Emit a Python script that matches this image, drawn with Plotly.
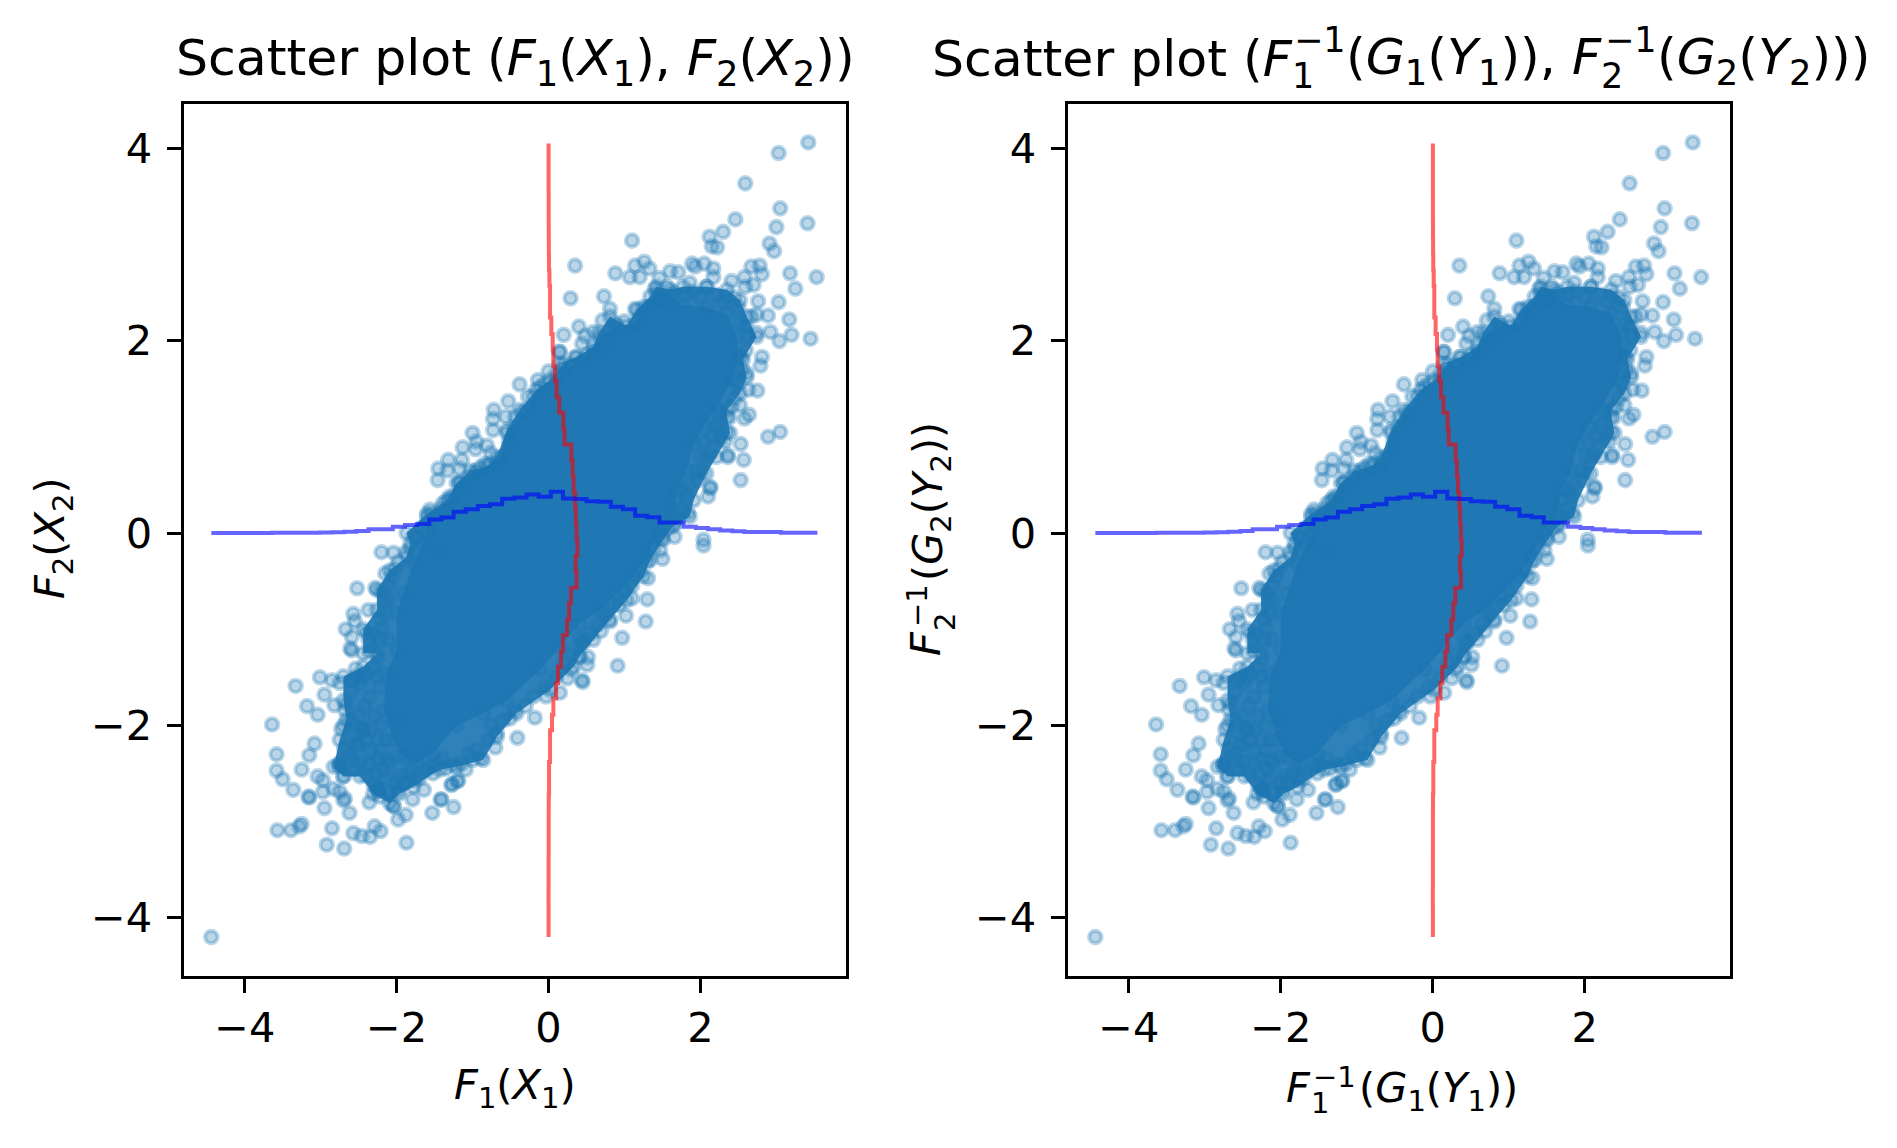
import plotly.graph_objects as go

# Values. The centre of the cloud is too saturated
# for separate points to be readable, so it is drawn from two outlines traced from
# the picture (solid core, denser band); the fringe points are individual marks.
core_outline = [(-2.13,-1.46),(-2.0,-1.22),(-2.0,-.835),(-1.91,-.63),(-1.78,-.32),(-1.6,.0),(-1.6,.17),(-1.3,.34),
    (-1.17,.52),(-.95,.65),(-.64,.76),(-.55,1.04),(-.29,1.28),(-.11,1.52),(.11,1.59),(.2,1.69),(.46,1.8),(.68,2.04),
    (.9,2.15),(1.14,2.18),(1.25,2.35),(1.42,2.49),(1.6,2.47),(1.77,2.37),(2.08,2.35),(2.35,2.28),(2.48,2.04),(2.5,1.83),
    (2.43,1.59),(2.21,1.31),(2.04,1.11),(1.91,.93),(1.82,.655),(1.69,.45),(1.64,.2),(1.47,.03),(1.29,-.245),(1.12,-.45),
    (.9,-.63),(.68,-.8),(.41,-.94),(.15,-1.18),(-.11,-1.42),(-.55,-1.74),(-.86,-1.875),(-1.21,-2.0),(-1.52,-2.29),
    (-1.74,-2.39),(-1.91,-2.33),(-2.04,-2.15),(-2.17,-1.84)]

band_outline = [(.15,1.76),(.37,1.83),(.59,1.94),(.66,2.08),(.81,2.25),(1.03,2.15),(1.16,2.32),(1.34,2.46),(1.42,2.56),
    (1.6,2.53),(1.77,2.56),(2.08,2.56),(2.35,2.53),(2.52,2.42),(2.61,2.25),(2.74,2.04),(2.56,1.8),(2.61,1.62),(2.52,1.45),
    (2.35,1.28),(2.35,1.21),(2.39,1.04),(2.21,.79),(2.08,.62),(1.91,.34),(1.86,.17),(1.64,.07),(1.51,-.07),(1.34,-.28),
    (1.25,-.45),(1.03,-.7),(.81,-.9),(.59,-1.11),(.41,-1.28),(.33,-1.39),(.02,-1.63),(-.42,-1.875),(-.68,-2.12),(-.86,-2.36),
    (-1.21,-2.43),(-1.43,-2.46),(-1.52,-2.5),(-1.78,-2.64),(-1.96,-2.71),(-2.09,-2.81),(-2.31,-2.71),(-2.48,-2.53),(-2.7,-2.53),
    (-2.83,-2.43),(-2.75,-2.15),(-2.66,-1.94),(-2.7,-1.74),(-2.7,-1.49),(-2.44,-1.39),(-2.26,-1.25),(-2.44,-1.25),(-2.44,-1.0),
    (-2.26,-.8),(-2.26,-.59),(-2.09,-.39),(-1.87,-.25),(-1.82,-.11),(-1.87,.0),(-1.6,.2),(-1.34,.34),(-1.21,.52),(-1.03,.65),
    (-.81,.69),(-.68,.79),(-.55,1.07),(-.38,1.28),(-.16,1.49),(.02,1.59),(.2,1.76)]

fringe_top_right = [(3.42,4.06),(3.03,3.95),(2.59,3.635),(3.05,3.375),(3.41,3.22),(3.0,3.18),(2.46,3.26),(2.30,3.13),
    (2.12,3.08),(2.15,2.98),(2.22,2.97),(1.10,3.04),(2.91,3.01),(2.97,2.93),(.35,2.78),(.88,2.70),(1.14,2.78),(1.07,2.66),
    (1.2,2.66),(1.26,2.82),(1.33,2.75),(1.46,2.65),(1.6,2.72),(1.71,2.71),(1.89,2.80),(1.93,2.77),(2.05,2.80),(2.17,2.75),
    (2.17,2.66),(1.86,2.60),(2.41,2.62),(2.58,2.66),(2.67,2.77),(2.78,2.78),(2.81,2.69),(2.7,2.58),(2.59,2.56),(3.18,2.70),
    (3.53,2.66),(3.25,2.54),(.29,2.44),(.73,2.46),(.81,2.33),(1.14,2.33),(2.76,2.41),(3.03,2.40),(2.89,2.26),(3.17,2.22),
    (2.92,2.09),(3.2,2.06),(3.04,1.995),(3.45,2.02),(.20,2.06),(.40,2.145),(.44,1.97),(.59,2.09),(.48,2.05),(.71,2.21),
    (.88,2.18),(.15,1.88),(.35,1.83),(2.81,1.83),(2.79,1.74),(2.75,1.48),(2.74,2.08),(2.63,1.49),(2.61,1.66),(2.54,1.83),
    (2.52,2.18),(2.5,2.35),(2.67,2.25),(2.74,2.27),(2.35,2.46),(2.08,2.56),(1.89,2.51),(1.56,2.56),(1.4,2.54),(1.47,2.46),(1.51,2.42)]

fringe_right = [(3.05,1.05),(2.89,1.0),(2.53,.925),(2.57,.76),(2.53,.55),(2.58,1.19),(2.64,1.23),(2.41,1.31),(2.52,1.33),
    (2.35,1.05),(2.32,.95),(2.36,.81),(2.36,.79),(2.13,.83),(2.02,.64),(1.97,.55),(2.13,.48),(2.13,.465),(2.1,.38),(1.84,.205),
    (1.82,.38),(1.67,.1),(1.66,-.04),(2.04,-.07),(2.04,-.13),(1.47,-.02),(1.47,-.18),(1.5,-.27),(1.31,-.47),(1.3,-.69),
    (1.1,-.68),(1.02,-.86),(1.28,-.92),(.93,-.75),(.69,-1.02),(.97,-1.09),(.91,-1.38),(.52,-1.29),(.51,-1.37),(.44,-1.15),
    (.3,-1.42),(.44,-1.53),(2.21,1.14),(2.08,.79),(2.26,.97),(1.69,.34)]

fringe_lower_right = [(.45,-1.55),(.25,-1.51),(.15,-1.66),(-.03,-1.70),(-.18,-1.92),(-.51,-1.93),(-.41,-2.13),(-.68,-2.08),
    (-.7,-2.23),(-.89,-2.34),(-1.0,-2.36),(-1.09,-2.46),(-1.19,-2.575),(-1.27,-2.61),(-1.41,-2.77),(-1.25,-2.85),(-1.26,-2.41),
    (.46,-1.13),(.41,-1.29),(.81,-.92)]

fringe_lower_left = [(-4.44,-4.2),(-3.57,-3.09),(-3.39,-3.09),(-3.28,-3.05),(-3.25,-3.025),(-2.85,-3.07),(-2.92,-3.24),
    (-2.69,-3.28),(-2.57,-3.12),(-2.46,-3.15),(-2.35,-3.16),(-2.29,-3.05),(-2.21,-3.1),(-1.87,-3.22),(-1.98,-2.98),(-1.88,-2.93),
    (-1.53,-2.91),(-1.42,-2.77),(-1.79,-2.77),(-2.04,-2.84),(-2.04,-2.84),(-2.36,-2.8),(-2.62,-2.91),(-2.95,-2.86),(-3.15,-2.75),
    (-3.16,-2.74),(-3.36,-2.67),(-3.5,-2.56),(-3.58,-2.47),(-3.25,-2.46),(-3.58,-2.3),(-3.15,-2.31),(-3.08,-2.19),(-3.64,-1.99),
    (-3.18,-1.8),(-3.04,-1.89),(-3.04,-2.53),(-2.97,-2.57),(-2.97,-2.69),(-2.83,-2.66),(-2.75,-2.69),(-2.68,-2.76),(-2.7,-2.78),
    (-2.76,-2.41),(-2.76,-2.42),(-2.75,-2.39),(-2.7,-2.53),(-2.69,-2.24),(-2.73,-2.04),(-2.45,-2.04),(-2.45,-2.03),(-2.44,-2.05),
    (-2.48,-2.38),(-2.4,-2.52),(-2.25,-2.67),(-2.26,-2.66),(-2.24,-2.68),(-2.22,-2.74),(-1.98,-2.68),(-1.64,-2.67),(-1.76,-2.57),
    (-1.28,-2.62),(-1.2,-2.58),(-1.47,-2.41),(-1.6,-2.46),(-2.18,-2.46),(-1.96,-2.53),(-2.13,-2.36),(-2.35,-2.26),(-2.53,-2.19),
    (-2.57,-2.36),(-2.2,-2.26),(-2.0,-2.32)]

fringe_left = [(-2.2,-.2),(-2.04,-.205),(-2.15,-.42),(-2.06,-.45),(-2.02,-.37),(-2.52,-.575),(-2.28,-.57),(-2.2,-.61),(-2.15,-.7),
    (-2.37,-.8),(-2.57,-.84),(-2.55,-.915),(-2.22,-.89),(-2.67,-1.0),(-2.59,-1.08),(-2.4,-1.03),(-2.37,-1.11),(-2.36,-1.23),
    (-2.59,-1.22),(-2.61,-1.2),(-2.22,-1.11),(-2.11,-1.11),(-2.54,-1.41),(-3.01,-1.5),(-2.85,-1.53),(-3.33,-1.59),(-2.95,-1.68),
    (-2.75,-1.56),(-2.57,-1.53),(-2.53,-1.49),(-2.4,-1.46),(-2.82,-1.79),(-2.66,-1.77),(-2.68,-1.84),(-2.35,-1.7),(-2.26,-1.49),
    (-2.22,-1.6),(-2.3,-1.91),(-2.2,-2.0),(-2.13,-2.15),(-2.0,-1.94),(-2.48,-1.56)]

fringe_upper_left = [(.14,1.885),(.0,1.68),(-.14,1.59),(-.38,1.545),(-.27,1.42),(-.53,1.37),(-.72,1.28),(-.73,1.185),(-.73,1.07),
    (-.56,1.21),(-1.0,1.04),(-.95,.95),(-.81,.91),(-.96,.87),(-1.13,.89),(-.76,.83),(-.84,.72),(-.68,.72),(-1.32,.76),(-1.14,.76),
    (-1.17,.67),(-1.45,.67),(-1.46,.55),(-1.33,.65),(-.97,.62),(-1.17,.53),(-1.56,.245),(-1.54,.2),(-1.39,.31),(-1.3,.38),
    (-1.78,-.04),(-1.82,-.16),(-1.65,-.11),(-1.41,-.2),(-.44,1.21),(.61,1.88),(.19,1.71)]

fringe_band = [(-2.6,-1.95),(-2.55,-2.1),(-2.5,-2.2),(-2.62,-2.3),(-2.55,-2.45),(-2.35,-2.4),(-2.28,-2.5),(-2.3,-2.62),(-2.15,-2.55),
    (-2.1,-2.7),(-2.0,-2.6),(-1.9,-2.6),(-1.85,-2.5),(-1.7,-2.55),(-1.55,-2.42),(-1.4,-2.35),(-1.35,-2.45),(-1.15,-2.4),(-1.05,-2.3),
    (-.95,-2.25),(-.8,-2.15),(-.75,-2.0),(-.6,-1.95),(-.45,-1.85),(-.3,-1.8),(-.2,-1.7),(-.05,-1.6),(.1,-1.5),(.2,-1.35),(.3,-1.25),
    (.4,-1.1),(.55,-1.05),(.65,-.95),(.75,-.85),(.85,-.75),(1.0,-.6),(1.1,-.55),(1.2,-.4),(1.3,-.3),(1.38,-.15),(1.5,-.05),(1.58,.05),
    (1.7,.15),(1.75,.25),(1.78,.45),(1.85,.5),(1.95,.65),(2.0,.8),(2.05,.95),(2.15,1.0),(2.2,1.1),(2.25,1.25),(2.38,1.2),(2.45,1.4),
    (2.5,1.55),(2.55,1.7),(2.6,1.9),(2.62,2.05),(2.6,2.15),(2.45,2.45),(2.3,2.4),(2.2,2.48),(2.0,2.45),(1.8,2.48),(1.65,2.5),(1.3,2.35),
    (1.2,2.25),(1.0,2.2),(.85,2.1),(.75,1.95),(.6,1.9),(.5,1.85),(.3,1.75),(.1,1.65),(-.05,1.55),(-.2,1.42),(-.35,1.25),(-.45,1.1),
    (-.52,.95),(-.6,.8),(-.78,.72),(-.9,.68),(-1.05,.58),(-1.15,.45),(-1.25,.38),(-1.42,.25),(-1.6,.1),(-1.68,.05),(-1.72,-.05),
    (-1.88,-.2),(-1.98,-.3),(-2.1,-.55),(-2.1,-.7),(-2.15,-.85),(-2.2,-1.0),(-2.3,-1.05),(-2.25,-1.3),(-2.3,-1.4),(-2.45,-1.5),
    (-2.6,-1.65),(-2.42,-1.8),(-2.5,-1.9),(-2.35,-2.05),(-2.25,-2.15),(-2.4,-2.15),(-2.7,-2.0),(-2.1,-2.4),(-2.25,-2.35),(-1.8,-2.45)]

x_hist_edges = [-4.44,-4.28,-4.12,-3.96,-3.80,-3.64,-3.48,-3.32,-3.17,-3.01,-2.85,-2.69,-2.53,-2.37,-2.21,-2.05,-1.89,-1.73,
    -1.57,-1.41,-1.25,-1.09,-.93,-.77,-.61,-.45,-.29,-.13,.03,.19,.34,.50,.66,.82,.98,1.14,1.30,1.46,1.62,1.78,1.94,2.10,2.26,
    2.42,2.58,2.74,2.90,3.06,3.22,3.38,3.54]
x_hist_density = [.001,0,0,0,.001,.003,.003,.003,.003,.004,.008,.012,.02,.038,.038,.066,.083,.094,.14,.16,.22,.246,.28,.30,
    .357,.37,.40,.378,.43,.36,.354,.33,.326,.274,.247,.18,.163,.108,.108,.066,.052,.039,.025,.018,.011,.011,.011,.003,.003,.002]
y_hist_edges = [-4.20,-4.03,-3.87,-3.70,-3.54,-3.37,-3.21,-3.04,-2.88,-2.71,-2.55,-2.38,-2.22,-2.05,-1.89,-1.72,-1.56,-1.39,
    -1.23,-1.06,-.90,-.73,-.57,-.40,-.24,-.07,.09,.26,.42,.59,.75,.92,1.08,1.25,1.41,1.58,1.74,1.91,2.07,2.24,2.40,2.57,2.73,
    2.90,3.06,3.23,3.39,3.56,3.72,3.89,4.05]
y_hist_density = [.001,.001,0,.001,.001,.002,.002,.002,.003,.007,.007,.02,.02,.046,.064,.10,.125,.165,.19,.244,.27,.296,.37,
    .357,.38,.37,.36,.35,.33,.318,.30,.21,.195,.14,.107,.085,.063,.055,.037,.02,.02,.012,.006,.004,.003,.002,.002,.001,.001,.001]

x_ticks = [-4, -2, 0, 2]
y_ticks = [-4, -2, 0, 2, 4]

W, H = 1897, 1148
BLUE = "#1f77b4"
INK = "#000000"
TICK_SIZE = 41.5
TITLE_SIZE = 50.5
SCRIPT_SIZE = 35
LABEL_SCRIPT = 29

fringe = (fringe_top_right + fringe_right + fringe_lower_right + fringe_lower_left + fringe_left + fringe_upper_left
          + fringe_band + band_outline + core_outline)
point_x = [p[0] for p in fringe]
point_y = [p[1] for p in fringe]
core_x = [p[0] for p in core_outline]
core_y = [p[1] for p in core_outline]
band_x = [p[0] for p in band_outline]
band_y = [p[1] for p in band_outline]
hist_x_vals = x_hist_density + [x_hist_density[-1]]
hist_y_vals = y_hist_density + [y_hist_density[-1]]

fig = go.Figure()
for ax, yax in (("x", "y"), ("x2", "y2")):
    fig.add_trace(go.Scatter(x=band_x, y=band_y, mode="none", fill="toself", fillcolor="rgba(31,119,180,0.93)",
                             xaxis=ax, yaxis=yax, hoverinfo="skip", showlegend=False))
    fig.add_trace(go.Scatter(x=core_x, y=core_y, mode="none", fill="toself", fillcolor=BLUE,
                             xaxis=ax, yaxis=yax, hoverinfo="skip", showlegend=False))
    fig.add_trace(go.Scatter(x=point_x, y=point_y, mode="markers", xaxis=ax, yaxis=yax, showlegend=False,
                             marker=dict(size=12.6, color="rgba(31,119,180,0.3)",
                                         line=dict(width=4, color="rgba(31,119,180,0.3)"))))
    fig.add_trace(go.Scatter(x=hist_y_vals, y=y_hist_edges, mode="lines", xaxis=ax, yaxis=yax, showlegend=False,
                             line=dict(color="rgba(255,0,0,0.6)", width=4, shape="vh")))
    fig.add_trace(go.Scatter(x=x_hist_edges, y=hist_x_vals, mode="lines", xaxis=ax, yaxis=yax, showlegend=False,
                             line=dict(color="rgba(0,0,255,0.6)", width=4, shape="hv")))

axis_style = dict(showgrid=False, zeroline=False, showline=True, mirror=True, linecolor=INK, linewidth=3,
                  ticks="outside", ticklen=14, tickwidth=3, tickcolor=INK, color=INK,
                  tickfont=dict(family="DejaVu Sans", size=TICK_SIZE, color=INK), tickmode="array")
fig.update_layout(
    width=W, height=H, margin=dict(l=0, r=0, t=0, b=0), paper_bgcolor="white", plot_bgcolor="white",
    font=dict(family="DejaVu Sans", color=INK), showlegend=False,
    xaxis=dict(axis_style, domain=[183.5 / W, 845.5 / W], range=[-4.806, 3.91], tickvals=x_ticks, anchor="y"),
    xaxis2=dict(axis_style, domain=[1067.5 / W, 1730 / W], range=[-4.806, 3.91], tickvals=x_ticks, anchor="y2"),
    yaxis=dict(axis_style, domain=[1 - 975.5 / H, 1 - 103.5 / H], range=[-4.60, 4.465], tickvals=y_ticks, anchor="x",
               ticklabelstandoff=6),
    yaxis2=dict(axis_style, domain=[1 - 975.5 / H, 1 - 103.5 / H], range=[-4.60, 4.465], tickvals=y_ticks, anchor="x2",
                ticklabelstandoff=6),
)

def note(text, px, py, size, angle=0, xa="left", ya="middle"):
    fig.add_annotation(text=text, x=px / W, y=1 - py / H, xref="paper", yref="paper", showarrow=False,
                       font=dict(family="DejaVu Sans", size=size, color=INK), xanchor=xa, yanchor=ya,
                       textangle=angle, borderpad=0)

F1 = "<i>F</i><sub>1</sub>"
F2 = "<i>F</i><sub>2</sub>"
note("Scatter plot (" + F1 + "(<i>X</i><sub>1</sub>), " + F2 + "(<i>X</i><sub>2</sub>))", 515, 61, TITLE_SIZE, xa="center")
note(F1 + "(<i>X</i><sub>1</sub>)", 515, 1087, TICK_SIZE, xa="center")
note(F2 + "(<i>X</i><sub>2</sub>)", 52, 538, TICK_SIZE, angle=-90, xa="center")

# right panel title: the stacked script pairs are placed as separate text pieces
note("Scatter plot (<i>F</i>", 931, 58, TITLE_SIZE)
note("1", 1291, 76, SCRIPT_SIZE)
note("\u22121", 1293, 40, SCRIPT_SIZE)
note("(<i>G</i><sub>1</sub>(<i>Y</i><sub>1</sub>)), <i>F</i>", 1345, 60, TITLE_SIZE)
note("2", 1600, 76, SCRIPT_SIZE)
note("\u22121", 1604, 40, SCRIPT_SIZE)
note("(<i>G</i><sub>2</sub>(<i>Y</i><sub>2</sub>)))", 1656, 60, TITLE_SIZE)

# right panel x label
note("<i>F</i>", 1285, 1087, TICK_SIZE)
note("1", 1310, 1103, LABEL_SCRIPT)
note("\u22121", 1312, 1077, LABEL_SCRIPT)
note("(<i>G</i><sub>1</sub>(<i>Y</i><sub>1</sub>))", 1358, 1090, TICK_SIZE)
# right panel y label
note("<i>F</i>", 925, 644, TICK_SIZE, angle=-90, xa="center")
note("2", 945, 622, LABEL_SCRIPT, angle=-90, xa="center")
note("\u22121", 917, 606, LABEL_SCRIPT, angle=-90, xa="center")
note("(<i>G</i><sub>2</sub>(<i>Y</i><sub>2</sub>))", 930, 502, TICK_SIZE, angle=-90, xa="center")

fig.write_html("out.html", post_script="document.body.style.margin='0';", config={"displayModeBar": False})
